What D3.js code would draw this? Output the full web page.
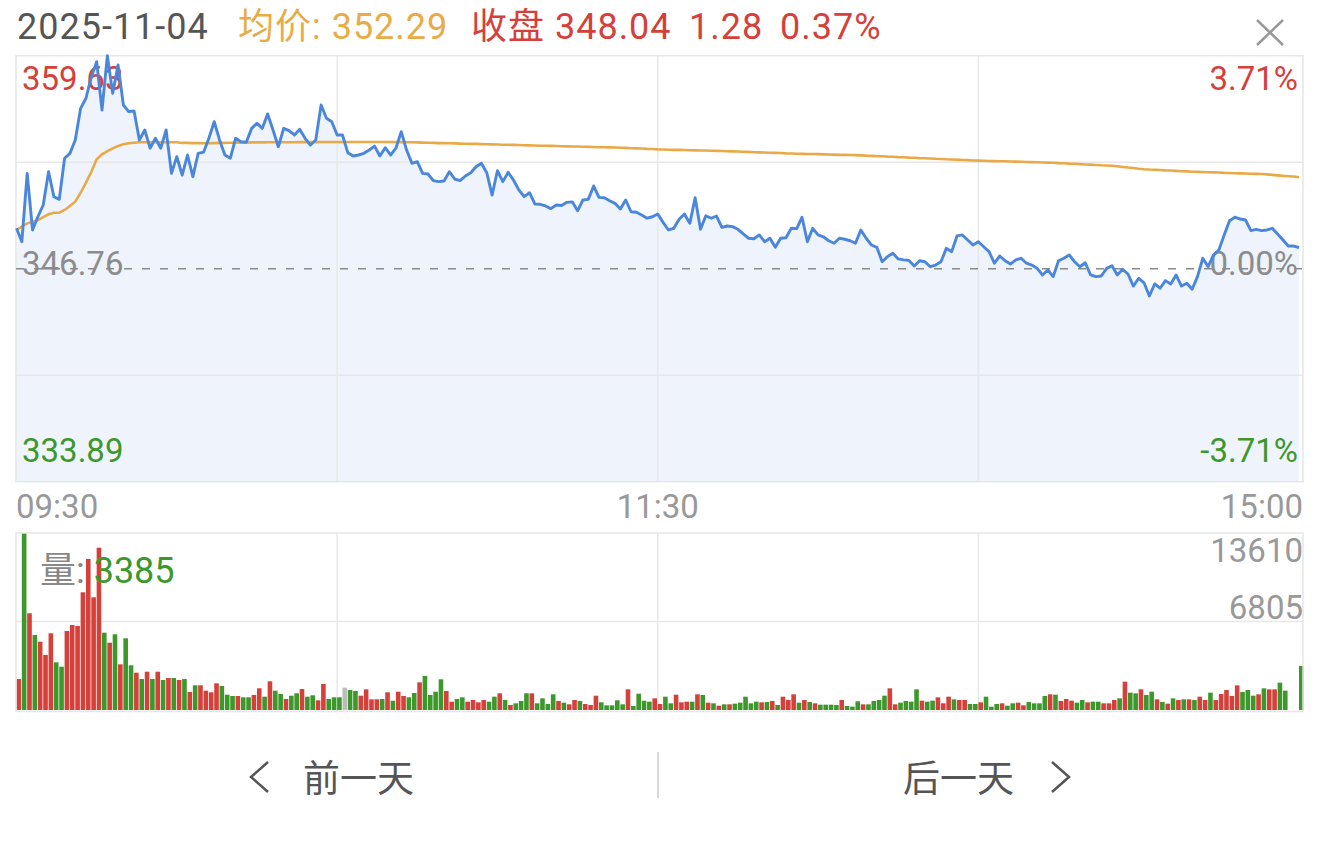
<!DOCTYPE html>
<html>
<head>
<meta charset="utf-8">
<script src="https://cdn.jsdelivr.net/npm/d3@7"></script>
<style>
  body { margin: 0; background: #fff; }
  svg { display: block; font-family: Roboto, "Noto Sans CJK SC", sans-serif; }
</style>
</head>
<body>
<script>
  // header values
  var tradeDate = "2025-11-04";
  var avgLast = 352.29;
  var closeLast = 348.04;
  var change = 1.28;
  var changePct = "0.37%";
  var preClose = 346.76;

  // axis labels
  var priceTicks = [359.63, 346.76, 333.89];
  var pctTicks = ["3.71%", "0.00%", "-3.71%"];
  var volTicks = [13610, 6805];
  var timeLabels = ["09:30", "11:30", "15:00"];

  // one value per minute, 09:30 .. 15:00 (241)
  var price = [
    349.20, 348.39, 352.52, 349.10, 349.90, 350.61, 352.62, 351.11, 350.95, 353.43,
    353.73, 354.54, 356.45, 357.06, 358.36, 359.27, 356.35, 359.63, 357.36, 359.07,
    356.65, 356.25, 356.29, 354.54, 355.14, 354.04, 354.64, 354.04, 355.14, 352.52,
    353.53, 352.42, 353.63, 352.32, 353.73, 353.80, 354.64, 355.64, 354.54, 353.63,
    353.43, 354.64, 354.43, 354.40, 355.24, 355.55, 355.24, 356.11, 355.14, 354.13,
    355.24, 355.10, 354.84, 355.18, 354.64, 354.23, 354.54, 356.65, 355.85, 355.64,
    354.84, 354.84, 353.77, 353.57, 353.63, 353.73, 353.93, 354.17, 353.57, 354.07,
    353.63, 354.04, 355.04, 353.93, 353.13, 353.23, 352.52, 352.48, 352.08, 352.02,
    352.06, 352.62, 352.18, 352.08, 352.36, 352.56, 352.92, 353.13, 352.56, 351.21,
    352.68, 352.02, 352.58, 352.12, 351.52, 351.11, 351.35, 350.67, 350.65, 350.55,
    350.39, 350.61, 350.58, 350.77, 350.80, 350.26, 350.91, 350.95, 351.76, 351.07,
    351.05, 350.87, 350.71, 350.37, 350.91, 350.20, 350.17, 350.00, 349.81, 349.90,
    350.07, 349.56, 349.10, 349.20, 349.75, 350.07, 349.50, 351.05, 349.14, 349.96,
    349.81, 349.94, 349.26, 349.34, 349.30, 349.14, 348.86, 348.60, 348.57, 348.80,
    348.39, 348.60, 348.05, 348.60, 348.63, 349.20, 349.18, 349.87, 348.39, 349.20,
    348.80, 348.69, 348.45, 348.30, 348.60, 348.54, 348.45, 348.30, 349.10, 348.60,
    348.19, 348.05, 347.18, 347.49, 347.69, 347.35, 347.29, 347.26, 346.92, 347.24,
    347.18, 346.88, 346.98, 347.18, 347.99, 347.79, 348.74, 348.80, 348.49, 348.19,
    348.39, 348.09, 347.79, 347.09, 347.53, 347.24, 347.04, 347.29, 347.39, 347.09,
    346.98, 346.78, 346.38, 346.68, 346.28, 347.24, 347.39, 347.59, 347.18, 346.88,
    347.12, 346.38, 346.28, 346.32, 346.78, 346.94, 346.38, 346.72, 346.44, 345.71,
    346.18, 345.91, 345.11, 345.84, 345.58, 346.04, 345.84, 346.38, 345.71, 345.88,
    345.52, 346.28, 347.39, 346.88, 347.59, 347.89, 348.80, 349.66, 349.87, 349.76,
    349.70, 349.06, 349.14, 349.06, 349.10, 349.20, 348.86, 348.49, 348.13, 348.13,
    348.04
  ];

  var avgPrice = [
    349.10, 349.30, 349.50, 349.58, 349.70, 349.87, 350.05, 350.14, 350.14, 350.31,
    350.55, 350.81, 351.35, 351.96, 352.62, 353.37, 353.67, 353.87, 354.03, 354.17,
    354.28, 354.34, 354.37, 354.40, 354.40, 354.40, 354.40, 354.40, 354.40, 354.40,
    354.40, 354.36, 354.36, 354.35, 354.35, 354.34, 354.34, 354.35, 354.36, 354.36,
    354.37, 354.38, 354.38, 354.38, 354.39, 354.39, 354.39, 354.40, 354.40, 354.40,
    354.40, 354.40, 354.40, 354.41, 354.41, 354.41, 354.41, 354.42, 354.42, 354.42,
    354.42, 354.42, 354.42, 354.42, 354.42, 354.42, 354.42, 354.42, 354.42, 354.42,
    354.42, 354.41, 354.41, 354.40, 354.40, 354.39, 354.38, 354.37, 354.36, 354.35,
    354.35, 354.34, 354.33, 354.32, 354.31, 354.30, 354.30, 354.29, 354.28, 354.27,
    354.26, 354.25, 354.25, 354.24, 354.23, 354.22, 354.21, 354.20, 354.19, 354.19,
    354.18, 354.17, 354.16, 354.15, 354.14, 354.14, 354.13, 354.12, 354.11, 354.10,
    354.10, 354.09, 354.08, 354.07, 354.06, 354.04, 354.03, 354.02, 354.00, 353.99,
    353.97, 353.96, 353.95, 353.94, 353.94, 353.93, 353.92, 353.91, 353.90, 353.90,
    353.89, 353.88, 353.87, 353.86, 353.85, 353.84, 353.83, 353.82, 353.80, 353.79,
    353.78, 353.77, 353.76, 353.75, 353.73, 353.72, 353.71, 353.70, 353.69, 353.69,
    353.68, 353.67, 353.66, 353.65, 353.64, 353.64, 353.63, 353.62, 353.61, 353.59,
    353.58, 353.56, 353.55, 353.53, 353.52, 353.50, 353.49, 353.47, 353.46, 353.44,
    353.43, 353.42, 353.40, 353.39, 353.37, 353.36, 353.35, 353.33, 353.32, 353.30,
    353.29, 353.28, 353.27, 353.26, 353.25, 353.25, 353.24, 353.23, 353.22, 353.21,
    353.20, 353.19, 353.18, 353.17, 353.16, 353.14, 353.13, 353.11, 353.10, 353.08,
    353.06, 353.05, 353.03, 353.01, 353.00, 352.98, 352.95, 352.91, 352.87, 352.84,
    352.80, 352.77, 352.75, 352.74, 352.72, 352.70, 352.69, 352.67, 352.65, 352.64,
    352.62, 352.61, 352.60, 352.59, 352.58, 352.57, 352.55, 352.54, 352.53, 352.52,
    352.51, 352.50, 352.49, 352.48, 352.46, 352.43, 352.40, 352.37, 352.35, 352.33,
    352.29
  ];

  var volume = [
    2384, 13610, 7436, 5768, 5253, 4230, 5898, 3668, 3330, 6075,
    6537, 6460, 9051, 11612, 8667, 12481, 5944, 5175, 5821, 3514,
    5514, 3437, 2868, 2384, 2945, 2384, 2945, 2307, 2461, 2461,
    2307, 2384, 1384, 1899, 1899, 1484, 1361, 2053, 1846, 1177,
    1077, 1077, 977, 977, 1154, 1669, 1023, 2207, 1484, 1230,
    846, 1100, 1284, 1615, 1023, 1130, 746, 1999, 846, 977,
    977, 1715, 1538, 1461, 1100, 1592, 823, 823, 846, 1361,
    715, 1407, 1077, 977, 1307, 2130, 2615, 1154, 1407, 2361,
    1461, 641, 846, 977, 641, 769, 590, 769, 641, 1023,
    1284, 769, 385, 513, 692, 1284, 1284, 513, 897, 461,
    1205, 692, 564, 436, 769, 692, 461, 385, 1100, 590,
    359, 359, 746, 436, 1592, 308, 1254, 715, 641, 897,
    461, 1023, 513, 1177, 590, 641, 641, 1205, 1154, 564,
    513, 331, 436, 436, 487, 564, 1023, 513, 641, 590,
    615, 692, 385, 1023, 769, 1205, 564, 769, 615, 513,
    410, 410, 410, 385, 769, 308, 256, 669, 436, 436,
    692, 769, 1102, 1666, 436, 564, 692, 641, 1589, 718,
    641, 718, 974, 513, 1025, 820, 769, 769, 461, 461,
    589, 1025, 256, 461, 513, 333, 513, 564, 359, 615,
    513, 513, 1076, 1205, 1179, 692, 846, 718, 564, 769,
    589, 641, 641, 513, 513, 769, 897, 2179, 1333, 1282,
    1589, 1153, 1410, 820, 615, 487, 897, 769, 820, 820,
    769, 1025, 769, 1333, 769, 1230, 1538, 1076, 1897, 1384,
    1538, 1102, 1205, 1666, 1589, 1589, 2102, 1487, 0, 0,
    3385
  ];

  var red = "#d5403a", green = "#3d982b", grayTxt = "#999";

  var width = 1320, height = 849;
  var left = 16.5, right = 1299;
  var pTop = 55.7, pBot = 481.7;
  var vTop = 533, vBot = 710;

  var x = d3.scaleLinear().domain([0, price.length - 1]).range([left, right]);
  var y = d3.scaleLinear().domain([priceTicks[2], priceTicks[0]]).range([pBot, pTop]);
  var yv = d3.scaleLinear().domain([0, volTicks[0]]).range([vBot, vTop]);

  var svg = d3.select("body").append("svg")
    .attr("width", width)
    .attr("height", height);

  //Header line
  var head = svg.append("g").attr("font-size", 36).attr("letter-spacing", 1);
  head.append("text").attr("x", 17).attr("y", 39).attr("fill", "#555").text(tradeDate);
  head.append("text").attr("x", 238).attr("y", 39).attr("fill", "#e9ab45").text("均价: " + avgLast.toFixed(2));
  head.append("text").attr("x", 471).attr("y", 39).attr("fill", red).text("收盘 " + closeLast.toFixed(2));
  head.append("text").attr("x", 689).attr("y", 39).attr("fill", red).text(change.toFixed(2));
  head.append("text").attr("x", 780).attr("y", 39).attr("fill", red).text(changePct);

  // close icon
  svg.append("path")
    .attr("d", "M1257,20L1283,45M1283,20L1257,45")
    .attr("stroke", "#999")
    .attr("stroke-width", 2.5)
    .attr("fill", "none");

  //Price panel
  var area = d3.area()
    .x(function(d, i) { return x(i); })
    .y0(pBot)
    .y1(function(d) { return y(d); });

  svg.append("path")
    .datum(price)
    .attr("d", area)
    .attr("fill", "#eef3fc");

  var gridX = [60, 120, 180];

  var grid = svg.append("g").attr("stroke", "#e8e8e8").attr("stroke-width", 1.5);
  grid.selectAll(".vx")
    .data(gridX)
    .enter().append("line")
    .attr("x1", function(d) { return x(d); })
    .attr("x2", function(d) { return x(d); })
    .attr("y1", pTop)
    .attr("y2", pBot);
  grid.selectAll(".hy")
    .data([1, 3])
    .enter().append("line")
    .attr("x1", 16)
    .attr("x2", 1303)
    .attr("y1", function(d) { return pTop + d * (pBot - pTop) / 4; })
    .attr("y2", function(d) { return pTop + d * (pBot - pTop) / 4; });

  svg.append("rect")
    .attr("x", 16).attr("y", pTop)
    .attr("width", 1287).attr("height", pBot - pTop)
    .attr("fill", "none")
    .attr("stroke", "#e6e6e6")
    .attr("stroke-width", 1.5);

  // left / right labels
  var tickColor = [red, "#8c8c8c", green];
  var tickBase = [90, 275, 462];
  var lab = svg.append("g").attr("font-size", 33);
  lab.selectAll(".pl")
    .data(priceTicks)
    .enter().append("text")
    .attr("x", 22)
    .attr("y", function(d, i) { return tickBase[i]; })
    .attr("fill", function(d, i) { return tickColor[i]; })
    .text(function(d) { return d.toFixed(2); });
  lab.selectAll(".pr")
    .data(pctTicks)
    .enter().append("text")
    .attr("x", 1298)
    .attr("text-anchor", "end")
    .attr("y", function(d, i) { return tickBase[i]; })
    .attr("fill", function(d, i) { return tickColor[i]; })
    .text(function(d) { return d; });

  // pre close dashed line
  svg.append("line")
    .attr("x1", 16).attr("x2", 1303)
    .attr("y1", y(preClose)).attr("y2", y(preClose))
    .attr("stroke", "#8a8a8a")
    .attr("stroke-width", 1.5)
    .attr("stroke-dasharray", "8,10");

  var line = d3.line()
    .x(function(d, i) { return x(i); })
    .y(function(d) { return y(d); });

  svg.append("path")
    .datum(avgPrice)
    .attr("d", line)
    .attr("fill", "none")
    .attr("stroke", "#eaa947")
    .attr("stroke-width", 2.6);

  svg.append("path")
    .datum(price)
    .attr("d", line)
    .attr("fill", "none")
    .attr("stroke", "#4a87dc")
    .attr("stroke-width", 2.9)
    .attr("stroke-linejoin", "round");

  // time labels
  var tAnchor = ["start", "middle", "end"];
  var tPos = [16, x(120), 1303];
  svg.append("g").attr("font-size", 33).attr("fill", grayTxt)
    .selectAll("text")
    .data(timeLabels)
    .enter().append("text")
    .attr("x", function(d, i) { return tPos[i]; })
    .attr("y", 518)
    .attr("text-anchor", function(d, i) { return tAnchor[i]; })
    .text(function(d) { return d; });

  //Volume panel
  var vgrid = svg.append("g").attr("stroke", "#e8e8e8").attr("stroke-width", 1.5);
  vgrid.selectAll(".vx")
    .data(gridX)
    .enter().append("line")
    .attr("x1", function(d) { return x(d); })
    .attr("x2", function(d) { return x(d); })
    .attr("y1", vTop)
    .attr("y2", vBot + 1);
  vgrid.append("line")
    .attr("x1", 16).attr("x2", 1303)
    .attr("y1", yv(volTicks[1])).attr("y2", yv(volTicks[1]));

  svg.append("g").selectAll(".vbar")
    .data(volume)
    .enter().append("rect")
    .attr("class", "vbar")
    .attr("x", function(d, i) { return x(i); })
    .attr("width", 4.6)
    .attr("y", function(d) { return yv(d); })
    .attr("height", function(d) { return vBot - yv(d); })
    .attr("fill", function(d, i) {
      var prev = i == 0 ? preClose : price[i - 1];
      if (price[i] > prev) return red;
      if (price[i] < prev) return green;
      return "#bdbdbd";
    });

  svg.append("rect")
    .attr("x", 16).attr("y", vTop)
    .attr("width", 1287).attr("height", vBot + 1.5 - vTop)
    .attr("fill", "none")
    .attr("stroke", "#e6e6e6")
    .attr("stroke-width", 1.5);

  var vlab = svg.append("g").attr("font-size", 33).attr("fill", grayTxt);
  vlab.selectAll("text")
    .data(volTicks)
    .enter().append("text")
    .attr("x", 1303)
    .attr("y", function(d, i) { return i == 0 ? 562 : 619; })
    .attr("text-anchor", "end")
    .text(function(d) { return d; });

  var vt = svg.append("text").attr("x", 40).attr("y", 583).attr("font-size", 36);
  vt.append("tspan").attr("fill", "#888").text("量: ");
  vt.append("tspan").attr("fill", green).text(volume[volume.length - 1]);

  //Bottom buttons
  var nav = svg.append("g").attr("fill", "#555").attr("font-size", 37);
  nav.append("text").attr("x", 303).attr("y", 792).text("前一天");
  nav.append("text").attr("x", 903).attr("y", 792).text("后一天");
  svg.append("path")
    .attr("d", "M268,762L251,777L268,792M1052,762L1069,777L1052,792")
    .attr("fill", "none")
    .attr("stroke", "#555")
    .attr("stroke-width", 2.5);
  svg.append("line")
    .attr("x1", 658).attr("x2", 658)
    .attr("y1", 752).attr("y2", 798)
    .attr("stroke", "#ccc")
    .attr("stroke-width", 1.5);
</script>
</body>
</html>
